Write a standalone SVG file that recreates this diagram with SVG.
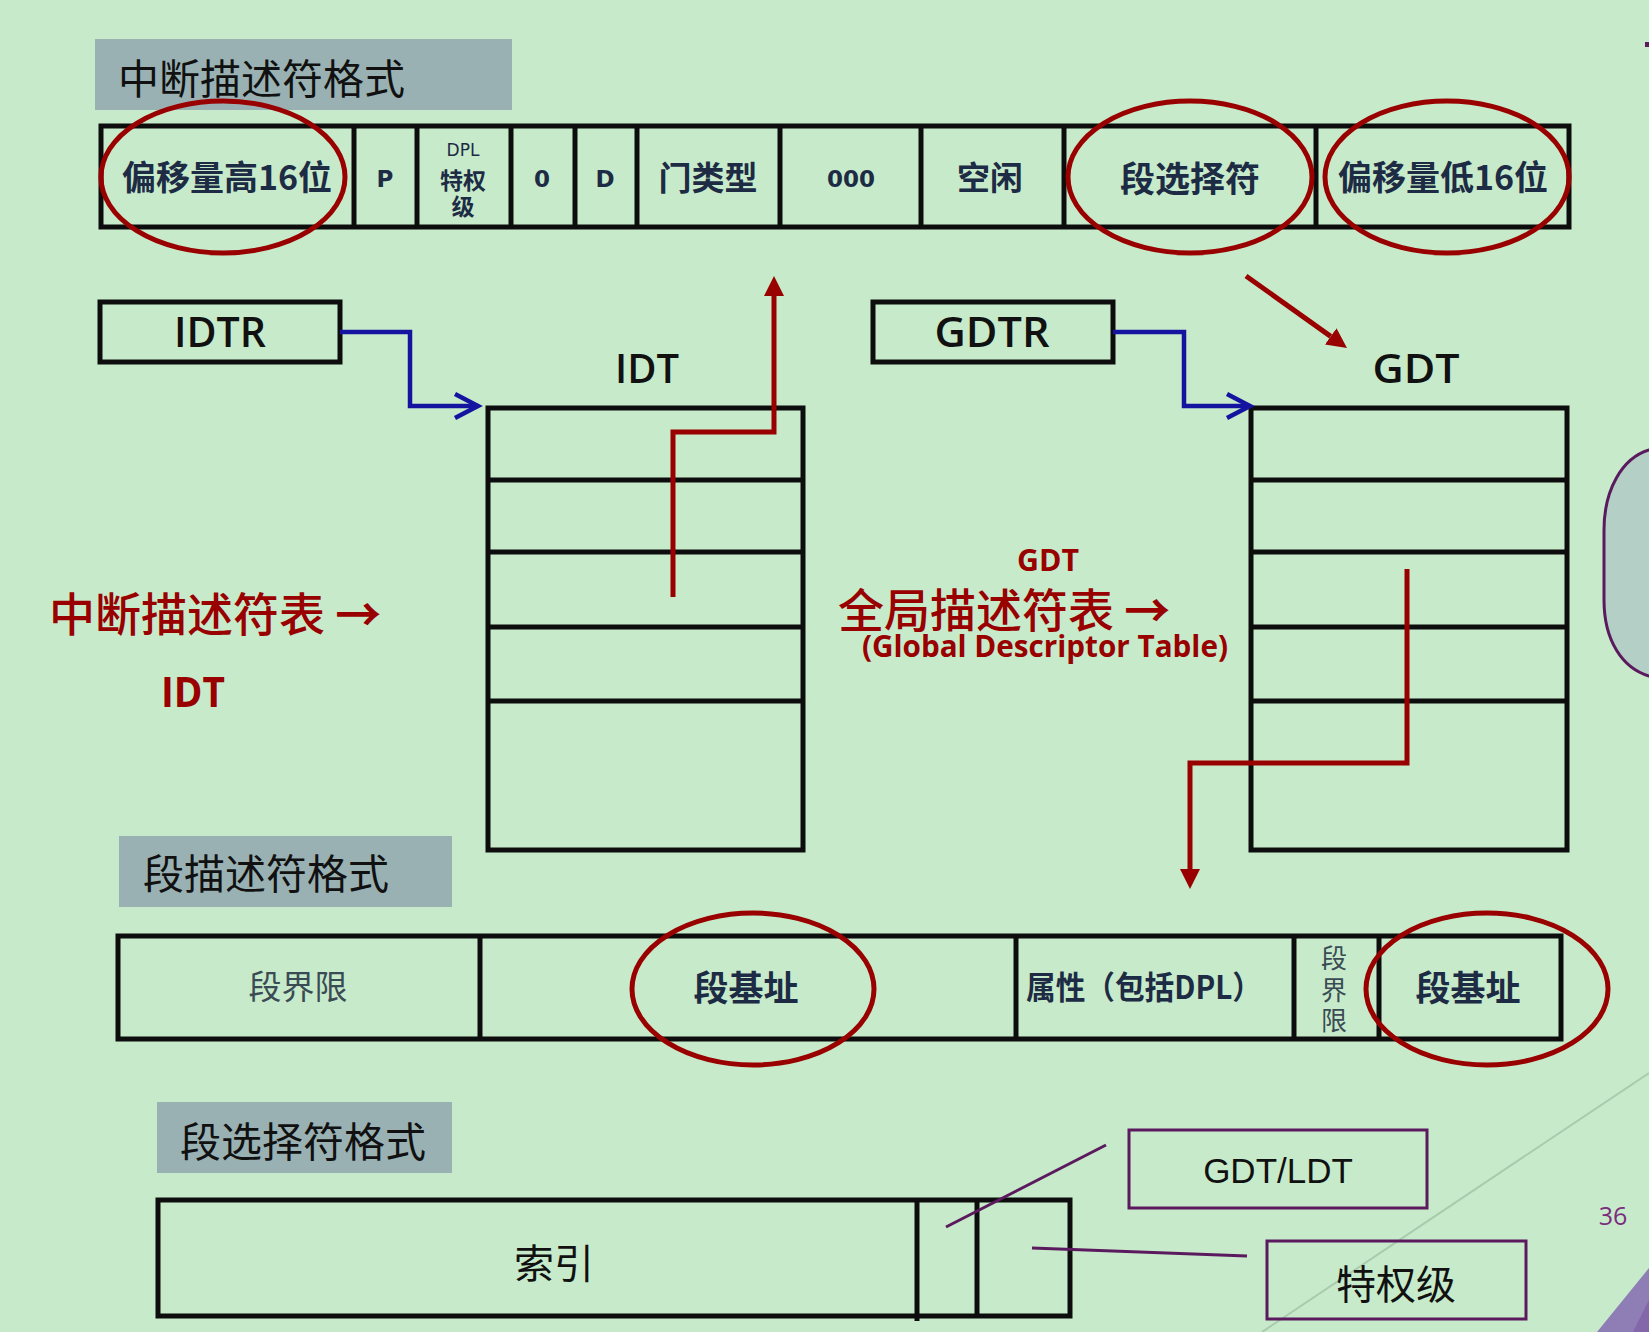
<svg xmlns="http://www.w3.org/2000/svg" width="1649" height="1332" viewBox="0 0 1649 1332">
<style>
.bg{fill:#c7ebca}
.hdr{fill:#9ab1b4}
.hdrt{font-family:"Noto Sans CJK SC",sans-serif;font-size:41px;fill:#111;dominant-baseline:central}
.tbl{fill:none;stroke:#0d0d0d;stroke-width:5}
.div{stroke:#0d0d0d;stroke-width:5}
.cj{font-family:"Noto Sans CJK SC",sans-serif;font-weight:700;fill:#1d2b45;text-anchor:middle;dominant-baseline:central}
.cjl{font-family:"Noto Sans CJK SC",sans-serif;font-weight:400;fill:#3b4b55;text-anchor:middle;dominant-baseline:central}
.la{font-family:"DejaVu Sans",sans-serif;font-weight:700;fill:#1d2b45;text-anchor:middle}
.lal{font-family:"DejaVu Sans",sans-serif;font-weight:400;fill:#1d2b45;text-anchor:middle}
.lbl{font-family:"Open Sans","Liberation Sans",sans-serif;font-weight:600;fill:#111;text-anchor:middle}
.ring{fill:none;stroke:#990000;stroke-width:5}
.red{fill:none;stroke:#990000;stroke-width:5;stroke-linejoin:miter}
.blue{fill:none;stroke:#1414a0;stroke-width:4.5;stroke-linejoin:miter}
.redcj{font-family:"Noto Sans CJK SC",sans-serif;font-weight:500;font-size:46px;fill:#990000;dominant-baseline:central}
.redla{font-family:"Open Sans",sans-serif;font-weight:700;fill:#990000;text-anchor:middle}
.pur{fill:none;stroke:#5b1a5e;stroke-width:3}
.blk{font-family:"Noto Sans CJK SC",sans-serif;fill:#111;text-anchor:middle;dominant-baseline:central}
</style>
<defs>
<marker id="redhead" markerUnits="userSpaceOnUse" markerWidth="20" markerHeight="20" viewBox="0 0 20 20" refX="0" refY="10" orient="auto">
<path d="M0,0 L20,10 L0,20 Z" fill="#990000"/>
</marker>
<marker id="bluehead" markerUnits="userSpaceOnUse" markerWidth="30" markerHeight="30" viewBox="0 0 30 30" refX="25" refY="15" orient="auto" overflow="visible">
<path d="M2,3 L25,15 L2,27" fill="none" stroke="#1414a0" stroke-width="4.5"/>
</marker>
</defs>
<rect class="bg" x="0" y="0" width="1649" height="1332"/>
<!-- decorative -->
<line x1="1649" y1="1073" x2="1262" y2="1332" stroke="#a9caae" stroke-width="2"/>
<path d="M1649,450 C1622,458 1604,490 1604,530 L1604,600 C1604,640 1622,668 1649,676 L1660,676 L1660,450 Z" fill="#b3cfc6" stroke="#5b1a5e" stroke-width="3"/>
<rect x="1645" y="42" width="4" height="5" fill="#5b1a5e"/>
<polygon points="1597,1332 1649,1268 1649,1332" fill="#8f7db5"/>
<polygon points="1633,1332 1649,1300 1649,1332" fill="#8466ab"/>
<text x="1613" y="1225" font-family="Open Sans, sans-serif" font-size="25" fill="#7b2d7d" text-anchor="middle">36</text>

<!-- section 1: interrupt descriptor format -->
<g id="hdr-idt-format">
<rect class="hdr" x="95" y="39" width="417" height="71"/>
<text class="hdrt" x="118" y="76">中断描述符格式</text>
</g>
<g id="idt-descriptor">
<rect class="tbl" x="101" y="126" width="1468" height="101"/>
<line class="div" x1="354" y1="126" x2="354" y2="227"/>
<line class="div" x1="417" y1="126" x2="417" y2="227"/>
<line class="div" x1="511" y1="126" x2="511" y2="227"/>
<line class="div" x1="575" y1="126" x2="575" y2="227"/>
<line class="div" x1="637" y1="126" x2="637" y2="227"/>
<line class="div" x1="780" y1="126" x2="780" y2="227"/>
<line class="div" x1="921" y1="126" x2="921" y2="227"/>
<line class="div" x1="1064" y1="126" x2="1064" y2="227"/>
<line class="div" x1="1316" y1="126" x2="1316" y2="227"/>
<text class="cj" x="227" y="175" font-size="34">偏移量高16位</text>
<text class="la" x="385" y="187" font-size="23">P</text>
<text class="lal" x="463" y="156" font-size="17">DPL</text>
<text class="cj" x="463" y="179" font-size="23">特权</text>
<text class="cj" x="463" y="205" font-size="23">级</text>
<text class="la" x="542" y="187" font-size="23">0</text>
<text class="la" x="605" y="187" font-size="23">D</text>
<text class="cj" x="708" y="176" font-size="33">门类型</text>
<text class="la" x="851" y="187" font-size="23">000</text>
<text class="cj" x="990" y="176" font-size="33">空闲</text>
<text class="cj" x="1190" y="176" font-size="35">段选择符</text>
<text class="cj" x="1443" y="175" font-size="34">偏移量低16位</text>
<ellipse class="ring" cx="223" cy="177" rx="122" ry="76"/>
<ellipse class="ring" cx="1190" cy="177" rx="122" ry="76"/>
<ellipse class="ring" cx="1447" cy="177" rx="122" ry="76"/>
</g>

<!-- section 2 -->
<g id="idtr">
<rect class="tbl" x="100" y="302" width="240" height="60"/>
<text class="lbl" x="220" y="347" font-size="42" textLength="92" lengthAdjust="spacingAndGlyphs">IDTR</text>
</g>
<g id="gdtr">
<rect class="tbl" x="873" y="302" width="240" height="60"/>
<text class="lbl" x="992" y="347" font-size="42" textLength="115" lengthAdjust="spacingAndGlyphs">GDTR</text>
</g>
<g id="idt-table">
<text class="lbl" x="647" y="383" font-size="39" textLength="64" lengthAdjust="spacingAndGlyphs">IDT</text>
<rect class="tbl" x="488" y="408" width="315" height="442"/>
<line class="div" x1="488" y1="480" x2="803" y2="480"/>
<line class="div" x1="488" y1="552" x2="803" y2="552"/>
<line class="div" x1="488" y1="627" x2="803" y2="627"/>
<line class="div" x1="488" y1="701" x2="803" y2="701"/>
</g>
<g id="gdt-table">
<text class="lbl" x="1416" y="383" font-size="39" textLength="87" lengthAdjust="spacingAndGlyphs">GDT</text>
<rect class="tbl" x="1251" y="408" width="316" height="442"/>
<line class="div" x1="1251" y1="480" x2="1567" y2="480"/>
<line class="div" x1="1251" y1="552" x2="1567" y2="552"/>
<line class="div" x1="1251" y1="627" x2="1567" y2="627"/>
<line class="div" x1="1251" y1="701" x2="1567" y2="701"/>
</g>
<g id="idt-caption">
<text class="redcj" x="49" y="611">中断描述符表 <tspan font-weight="700">→</tspan></text>
<text class="redla" x="193" y="707" font-size="42" textLength="64" lengthAdjust="spacingAndGlyphs">IDT</text>
</g>
<g id="gdt-caption">
<text class="redla" x="1048" y="571" font-size="31" textLength="62" lengthAdjust="spacingAndGlyphs">GDT</text>
<text class="redcj" x="838" y="607">全局描述符表 <tspan font-weight="700">→</tspan></text>
<text class="redla" x="1045" y="657" font-size="30" textLength="366" lengthAdjust="spacingAndGlyphs">(Global Descriptor Table)</text>
</g>

<!-- section 3 -->
<g id="hdr-seg-format">
<rect class="hdr" x="119" y="836" width="333" height="71"/>
<text class="hdrt" x="143" y="871">段描述符格式</text>
</g>
<g id="seg-descriptor">
<rect class="tbl" x="118" y="936" width="1443" height="103"/>
<line class="div" x1="480" y1="936" x2="480" y2="1039"/>
<line class="div" x1="1016" y1="936" x2="1016" y2="1039"/>
<line class="div" x1="1294" y1="936" x2="1294" y2="1039"/>
<line class="div" x1="1379" y1="936" x2="1379" y2="1039"/>
<text class="cjl" x="298" y="985" font-size="33">段界限</text>
<text class="cj" x="746" y="985" font-size="35">段基址</text>
<text class="cj" x="1144" y="985" font-size="32" textLength="236" lengthAdjust="spacingAndGlyphs">属性（包括DPL）</text>
<text class="cjl" x="1334" y="956" font-size="26">段</text>
<text class="cjl" x="1334" y="988" font-size="26">界</text>
<text class="cjl" x="1334" y="1018" font-size="26">限</text>
<text class="cj" x="1468" y="985" font-size="35">段基址</text>
<ellipse class="ring" cx="753" cy="989" rx="121" ry="76"/>
<ellipse class="ring" cx="1487" cy="989" rx="121" ry="76"/>
</g>

<!-- section 4 -->
<g id="hdr-selector-format">
<rect class="hdr" x="157" y="1102" width="295" height="71"/>
<text class="hdrt" x="180" y="1139">段选择符格式</text>
</g>
<g id="selector">
<rect class="tbl" x="158" y="1200" width="912" height="116"/>
<line class="div" x1="917" y1="1200" x2="917" y2="1321"/>
<line class="div" x1="977" y1="1200" x2="977" y2="1316"/>
<text class="blk" x="554" y="1261" font-size="40">索引</text>
</g>
<g id="gdt-ldt">
<rect class="pur" x="1129" y="1130" width="298" height="78"/>
<text x="1278" y="1183" font-family="Liberation Sans, Arial, sans-serif" font-size="35" fill="#111" text-anchor="middle">GDT/LDT</text>
</g>
<g id="privilege">
<rect class="pur" x="1267" y="1241" width="259" height="78"/>
<text class="blk" x="1396" y="1282" font-size="40">特权级</text>
</g>

<!-- connectors -->
<g id="connectors">
<path class="blue" d="M340,332 H410 V406 H478" marker-end="url(#bluehead)"/>
<path class="blue" d="M1113,332 H1184 V406 H1250" marker-end="url(#bluehead)"/>
<path class="red" d="M673,597 V432 H774 V296" marker-end="url(#redhead)"/>
<path class="red" d="M1407,569 V763 H1190 V869" marker-end="url(#redhead)"/>
<path class="red" d="M1246,276 L1330.7,336.4" marker-end="url(#redhead)"/>
<line class="pur" x1="946" y1="1227" x2="1106" y2="1145"/>
<line class="pur" x1="1032" y1="1248" x2="1247" y2="1256"/>
</g>
</svg>
